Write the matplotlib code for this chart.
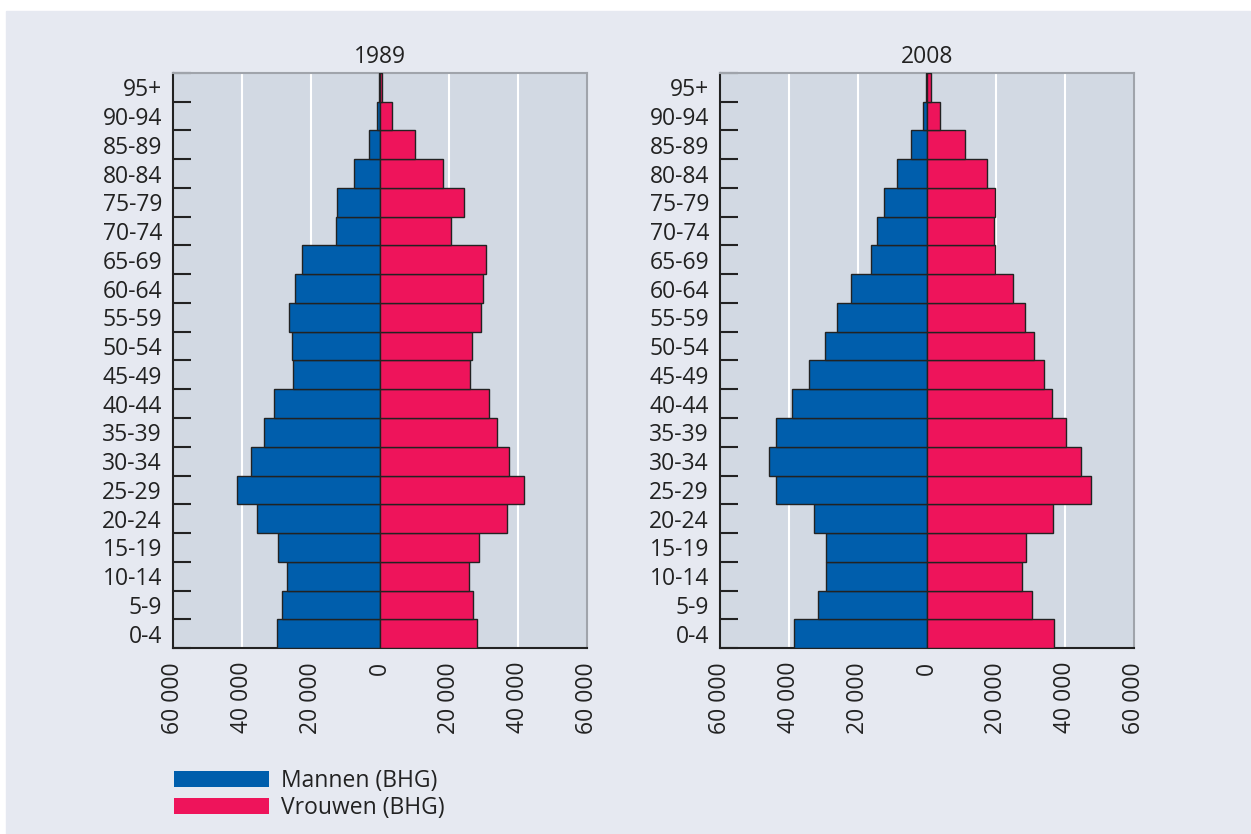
import matplotlib.pyplot as plt
from matplotlib.patches import Patch, Rectangle
from matplotlib.ticker import FuncFormatter

# leeftijdsgroepen (van jong naar oud)
groepen = ['0-4', '5-9', '10-14', '15-19', '20-24', '25-29', '30-34', '35-39',
           '40-44', '45-49', '50-54', '55-59', '60-64', '65-69', '70-74',
           '75-79', '80-84', '85-89', '90-94', '95+']

mannen_1989 = [29900, 28500, 26900, 29600, 35700, 41400, 37300, 33700, 30600,
               25100, 25400, 26400, 24600, 22500, 12700, 12500, 7400, 3300, 1000, 400]
vrouwen_1989 = [28000, 27000, 25800, 28600, 36700, 41600, 37500, 33900, 31500,
                26000, 26800, 29300, 29800, 30600, 20500, 24300, 18200, 10100, 3500, 700]

mannen_2008 = [38500, 31600, 29200, 29300, 32700, 43900, 45700, 43900, 39200,
               34200, 29700, 26200, 21900, 16300, 14500, 12600, 8800, 4600, 1200, 300]
vrouwen_2008 = [36800, 30500, 27600, 28600, 36600, 47500, 44500, 40200, 36100,
                33800, 31000, 28400, 24900, 19700, 19400, 19700, 17300, 11100, 3900, 1300]

x_ticks = [-60000, -40000, -20000, 0, 20000, 40000, 60000]

blauw = '#005eac'
roze = '#ee145b'
achtergrond = '#e6e9f1'
vlak = '#d2d9e3'
tekst = '#222222'
fs = 16.5

plt.rcParams['font.family'] = ['Open Sans', 'DejaVu Sans']

fig = plt.figure(figsize=(12.51, 8.34), dpi=100, facecolor='white')
fig.patches.append(Rectangle((6 / 1251, 0), 1244 / 1251, 823 / 834,
                             transform=fig.transFigure, color=achtergrond, zorder=-10))

W, H = 1251, 834


def piramide(links, titel, mannen, vrouwen):
    ax = fig.add_axes([links / W, (H - 648) / H, 414 / W, 575 / H])
    ax.set_facecolor(vlak)
    y = list(range(len(groepen)))
    ax.barh(y, [-m for m in mannen], height=1.0, color=blauw, edgecolor=tekst,
            linewidth=1, zorder=3)
    ax.barh(y, vrouwen, height=1.0, color=roze, edgecolor=tekst,
            linewidth=1, zorder=3)
    ax.set_xlim(-60000, 60000)
    ax.set_ylim(-0.5, len(groepen) - 0.5)

    ax.set_xticks(x_ticks)
    ax.xaxis.set_major_formatter(FuncFormatter(
        lambda v, p: f'{abs(int(v)):,}'.replace(',', ' ')))
    ax.tick_params(axis='x', length=0, pad=10, labelsize=fs, labelcolor=tekst,
                   labelrotation=90)
    for lab in ax.get_xticklabels():
        lab.set_verticalalignment('top')

    ax.set_yticks([k - 0.5 for k in range(len(groepen) + 1)])
    ax.set_yticklabels([])
    ax.set_yticks(y, minor=True)
    ax.set_yticklabels(groepen, minor=True)
    ax.tick_params(axis='y', which='major', direction='in', length=13, width=1.5,
                   color=tekst)
    ax.tick_params(axis='y', which='minor', length=0, pad=8, labelsize=fs,
                   labelcolor=tekst)

    ax.grid(axis='x', color='white', linewidth=1.5, zorder=1)
    ax.set_axisbelow(True)

    for s in ['left', 'bottom']:
        ax.spines[s].set_color(tekst)
        ax.spines[s].set_linewidth(1.5)
    for s in ['top', 'right']:
        ax.spines[s].set_color('#a0a4ab')
        ax.spines[s].set_linewidth(1.5)

    ax.set_title(titel, fontsize=fs, color=tekst, pad=7)
    return ax


piramide(173, '1989', mannen_1989, vrouwen_1989)
piramide(720, '2008', mannen_2008, vrouwen_2008)

handles = [Patch(facecolor=blauw, label='Mannen (BHG)'),
           Patch(facecolor=roze, label='Vrouwen (BHG)')]
fig.legend(handles=handles, loc='upper left',
           bbox_to_anchor=(165 / W, (H - 760) / H), frameon=False,
           fontsize=fs, labelcolor=tekst, handlelength=4.15, handleheight=0.7,
           labelspacing=0.12, handletextpad=0.5, borderaxespad=0)

fig.savefig('out.png', dpi=100, facecolor=fig.get_facecolor())
